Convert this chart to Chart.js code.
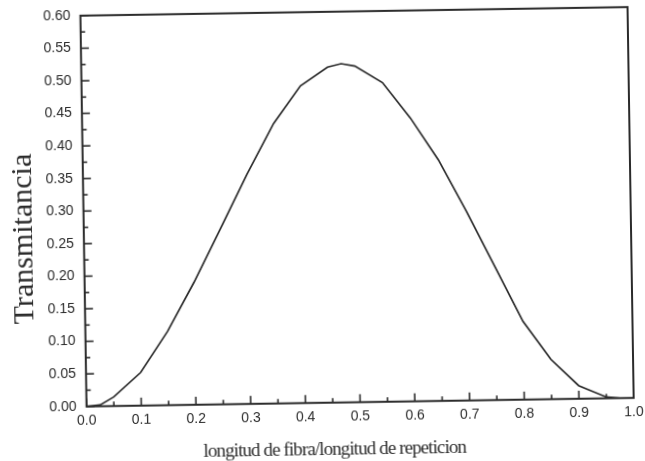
<!DOCTYPE html>
<html>
<head>
<meta charset="utf-8">
<script src="https://cdn.jsdelivr.net/npm/chart.js@4/dist/chart.umd.min.js"></script>
<style>
  html, body { margin: 0; padding: 0; background: #fff; }
  #wrap { position: relative; width: 645px; height: 461px; transform: rotate(-0.9deg); transform-origin: 322.5px 230.5px; }
  canvas { display: block; }
</style>
</head>
<body>
<div id="wrap"><canvas id="c" width="645" height="461"></canvas></div>
<script>
// ---- data ----
const fiberRatio = [0, 0.025, 0.05, 0.1, 0.15, 0.2, 0.25, 0.3, 0.35, 0.4, 0.45, 0.475, 0.5, 0.55, 0.6, 0.65, 0.7, 0.75, 0.8, 0.85, 0.9, 0.95, 0.975, 1.0];
const transmittance = [0, 0.002, 0.014, 0.051, 0.113, 0.188, 0.27, 0.353, 0.43, 0.487, 0.515, 0.52, 0.516, 0.49, 0.435, 0.37, 0.29, 0.205, 0.12, 0.061, 0.02, 0.002, 0, 0];
const xTickLabels = ['0.0', '0.1', '0.2', '0.3', '0.4', '0.5', '0.6', '0.7', '0.8', '0.9', '1.0'];
const yTickLabels = ['0.00', '0.05', '0.10', '0.15', '0.20', '0.25', '0.30', '0.35', '0.40', '0.45', '0.50', '0.55', '0.60'];
const xTitle = 'longitud de fibra/longitud de repeticion';
const yTitle = 'Transmitancia';

const ink = '#2b2b2b';
const serif = '"Liberation Serif", "Times New Roman", serif';
const sans = '"Liberation Sans", Arial, sans-serif';

const frameAndTicks = {
  id: 'frameAndTicks',
  afterDraw(chart) {
    const {ctx, chartArea: a, scales: {x, y}} = chart;
    ctx.save();
    ctx.strokeStyle = ink;
    ctx.lineWidth = 2;
    ctx.strokeRect(a.left, a.top, a.right - a.left, a.bottom - a.top);
    ctx.lineWidth = 1.6;
    x.ticks.forEach((t, i) => {
      const px = x.getPixelForValue(t.value);
      ctx.beginPath(); ctx.moveTo(px, a.bottom); ctx.lineTo(px, a.bottom - 8); ctx.stroke();
      if (i < x.ticks.length - 1) {
        const mx = x.getPixelForValue((t.value + x.ticks[i + 1].value) / 2);
        ctx.beginPath(); ctx.moveTo(mx, a.bottom); ctx.lineTo(mx, a.bottom - 4.5); ctx.stroke();
      }
    });
    y.ticks.forEach((t, i) => {
      const py = y.getPixelForValue(t.value);
      ctx.beginPath(); ctx.moveTo(a.left, py); ctx.lineTo(a.left + 8, py); ctx.stroke();
      if (i < y.ticks.length - 1) {
        const my = y.getPixelForValue((t.value + y.ticks[i + 1].value) / 2);
        ctx.beginPath(); ctx.moveTo(a.left, my); ctx.lineTo(a.left + 4.5, my); ctx.stroke();
      }
    });
    // axis titles
    ctx.fillStyle = ink;
    ctx.font = '19px ' + serif;
    if ('letterSpacing' in ctx) ctx.letterSpacing = '-0.9px';
    ctx.textAlign = 'center';
    ctx.textBaseline = 'alphabetic';
    ctx.fillText(xTitle, (a.left + a.right) / 2 - 26, 455);
    ctx.font = '30px ' + serif;
    if ('letterSpacing' in ctx) ctx.letterSpacing = '0px';
    ctx.translate(32, (a.top + a.bottom) / 2 + 27);
    ctx.rotate(-Math.PI / 2);
    ctx.fillText(yTitle, 0, 0);
    ctx.restore();
  }
};

new Chart(document.getElementById('c'), {
  type: 'line',
  data: {
    datasets: [{
      data: fiberRatio.map((v, i) => ({x: v, y: transmittance[i]})),
      borderColor: ink,
      borderWidth: 1.7,
      pointRadius: 0,
      tension: 0,
      fill: false
    }]
  },
  options: {
    responsive: false,
    animation: false,
    layout: { padding: { left: 0, right: 14, top: 11.9, bottom: 0 } },
    plugins: { legend: { display: false }, tooltip: { enabled: false } },
    scales: {
      x: {
        type: 'linear', min: 0, max: 1,
        grid: { display: false, drawTicks: false, tickLength: 0 }, border: { display: false },
        ticks: {
          stepSize: 0.1, padding: 6, maxRotation: 0, autoSkip: false,
          color: ink, font: { family: sans, size: 14 },
          callback: (v, i) => xTickLabels[i]
        },
        afterFit: s => { s.height = 58.25; s.paddingLeft = 0; s.paddingRight = 0; }
      },
      y: {
        type: 'linear', min: 0, max: 0.6,
        grid: { display: false, drawTicks: false, tickLength: 0 }, border: { display: false },
        ticks: {
          stepSize: 0.05, padding: 10, autoSkip: false,
          color: ink, font: { family: sans, size: 14 },
          callback: (v, i) => yTickLabels[i]
        },
        afterFit: s => { s.width = 83.8; s.paddingTop = 0; s.paddingBottom = 0; }
      }
    }
  },
  plugins: [frameAndTicks]
});
</script>
</body>
</html>
